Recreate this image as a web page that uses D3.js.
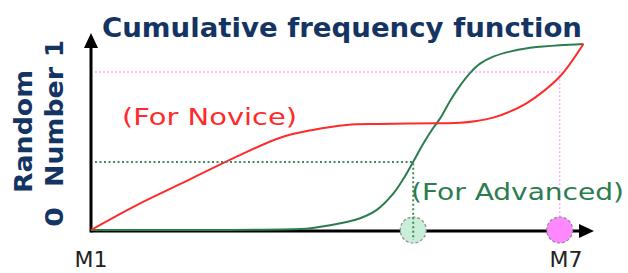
<!DOCTYPE html>
<html>
<script src='https://d3js.org/d3.v7.min.js'></script>
<style>
  body{
    margin: 0;
    background-color: white;
  }
  text{
    font-family: 'DejaVu Sans', Verdana, sans-serif;
  }
</style>
<body>
<script>

// curve values (x in M units, y = random number 0..1)
var noviceX = [1, 1.56, 2.19, 2.82, 3.38, 3.8, 4.23, 4.65, 5.41, 5.66, 5.87, 6.08, 6.29, 6.5, 6.71, 6.92, 7.05, 7.22];
var noviceY = [0, 0.13, 0.26, 0.39, 0.495, 0.538, 0.565, 0.57, 0.574, 0.576, 0.586, 0.604, 0.636, 0.681, 0.744, 0.824, 0.893, 1.0];

var advancedX = [1, 2.5, 3.64, 3.8, 4.23, 4.4, 4.61, 4.82, 4.95, 5.07, 5.2, 5.32, 5.41, 5.53, 5.66, 5.79, 5.91, 6.08, 6.29, 6.51, 6.71, 6.92, 7.22];
var advancedY = [0, 0, 0.005, 0.011, 0.043, 0.063, 0.108, 0.197, 0.278, 0.367, 0.466, 0.547, 0.6, 0.69, 0.775, 0.845, 0.893, 0.932, 0.959, 0.977, 0.986, 0.993, 1.0];

// dotted guide markers: [x, y]
var advancedMark = [5.07, 0.366];
var noviceMark = [6.92, 0.85];

var xTicks = [1, 7];
var xTickLabels = ["M1", "M7"];

var titleText = "Cumulative frequency function";

var width = 628;
var height = 273;

var svg = d3.select('body').append('svg').attr('width', width).attr('height', height);

var x = d3.scaleLinear().domain([1, 7]).range([91, 566]);
var y = d3.scaleLinear().domain([0, 1]).range([230, 44]);

var line = d3.line()
  .x(d => x(d[0]))
  .y(d => y(d[1]))
  .curve(d3.curveCatmullRom.alpha(0.5));

// title
svg.append("text")
  .attr("x", 102).attr("y", 37)
  .attr("font-size", 26).attr("font-weight", "bold")
  .attr("fill", "#143463")
  .attr("textLength", 480).attr("lengthAdjust", "spacingAndGlyphs")
  .text(titleText);

// y label, two rotated lines
var ylab = svg.append("g").attr("fill", "#143463").attr("font-weight", "bold").attr("font-size", 25);
ylab.append("text")
  .attr("transform", "translate(32,193) rotate(-90)")
  .attr("textLength", 123).attr("lengthAdjust", "spacingAndGlyphs")
  .text("Random");
ylab.append("text")
  .attr("transform", "translate(63,227) rotate(-90)")
  .attr("textLength", 20).attr("lengthAdjust", "spacingAndGlyphs")
  .text("0");
ylab.append("text")
  .attr("transform", "translate(63,187) rotate(-90)")
  .attr("textLength", 120).attr("lengthAdjust", "spacingAndGlyphs")
  .text("Number");
ylab.append("text")
  .attr("transform", "translate(63,57) rotate(-90)")
  .attr("textLength", 17).attr("lengthAdjust", "spacingAndGlyphs")
  .text("1");

// dotted pink guide
svg.append("path")
  .attr("d", d3.line()([[x(1) + 4, y(noviceMark[1])], [x(noviceMark[0]), y(noviceMark[1])], [x(noviceMark[0]), y(0)]]))
  .attr("fill", "none").attr("stroke", "#ffaaff").attr("stroke-width", 1.5)
  .attr("stroke-dasharray", "2,2");

// axes
svg.append("line")
  .attr("x1", x(1)).attr("x2", 582).attr("y1", y(0) + 1).attr("y2", y(0) + 1)
  .attr("stroke", "black").attr("stroke-width", 3);
svg.append("line")
  .attr("x1", x(1)).attr("x2", x(1)).attr("y1", y(0) + 2.5).attr("y2", 46)
  .attr("stroke", "black").attr("stroke-width", 3);

// arrow heads
svg.append("path").attr("d", "M" + x(1) + ",33 L" + (x(1) - 7) + ",48 L" + (x(1) + 7) + ",48 Z").attr("fill", "black");
svg.append("path").attr("d", "M594," + (y(0) + 1) + " L579," + (y(0) - 6) + " L579," + (y(0) + 8) + " Z").attr("fill", "black");

// curves
svg.append("path")
  .datum(d3.zip(advancedX, advancedY))
  .attr("d", line)
  .attr("fill", "none").attr("stroke", "#2b7d4e").attr("stroke-width", 2);

svg.append("path")
  .datum(d3.zip(noviceX, noviceY))
  .attr("d", line)
  .attr("fill", "none").attr("stroke", "#ff2a2a").attr("stroke-width", 2);

// marker circles on the x axis
svg.append("circle")
  .attr("cx", x(advancedMark[0])).attr("cy", y(0))
  .attr("r", 13)
  .attr("fill", "#c9efd9").attr("stroke", "#8a8a8a").attr("stroke-width", 1.2)
  .attr("stroke-dasharray", "3,2");
svg.append("circle")
  .attr("cx", x(noviceMark[0])).attr("cy", y(0))
  .attr("r", 13)
  .attr("fill", "#ff88ff").attr("stroke", "#8a8a8a").attr("stroke-width", 1.2)
  .attr("stroke-dasharray", "3,2");

// dotted green guide
svg.append("path")
  .attr("d", d3.line()([[x(1) + 4, y(advancedMark[1])], [x(advancedMark[0]), y(advancedMark[1])], [x(advancedMark[0]), y(0) + 10]]))
  .attr("fill", "none").attr("stroke", "#3f8c60").attr("stroke-width", 2)
  .attr("stroke-dasharray", "2,2.5");

// series labels
svg.append("text")
  .attr("x", 122).attr("y", 125)
  .attr("font-size", 23).attr("fill", "#ff2a2a")
  .attr("textLength", 175).attr("lengthAdjust", "spacingAndGlyphs")
  .text("(For Novice)");
svg.append("text")
  .attr("x", 411).attr("y", 200)
  .attr("font-size", 23).attr("fill", "#2b7d4e")
  .attr("textLength", 213).attr("lengthAdjust", "spacingAndGlyphs")
  .text("(For Advanced)");

// tick labels
svg.selectAll(".tick")
  .data(xTicks)
  .enter()
  .append("text")
  .attr("class", "tick")
  .attr("x", d => x(d))
  .attr("y", 267)
  .attr("text-anchor", "middle")
  .attr("font-size", 22).attr("fill", "#222")
  .text((d, i) => xTickLabels[i]);

</script>
</body>
</html>
